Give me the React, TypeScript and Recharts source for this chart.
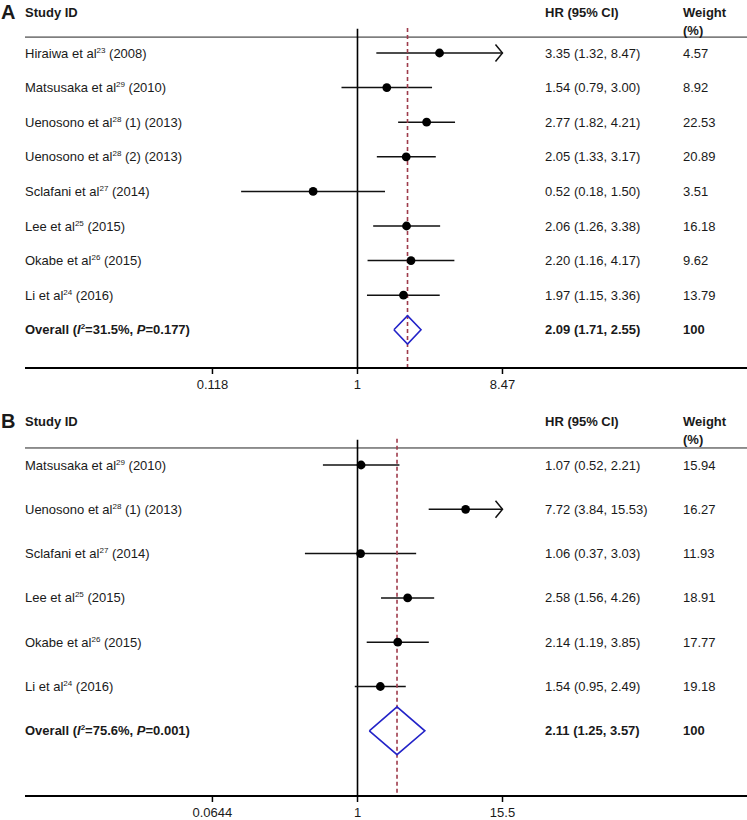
import React from 'react';
import { ComposedChart, XAxis, YAxis, Scatter, ReferenceLine } from 'recharts';

const FONT = '"Liberation Sans", Arial, Helvetica, sans-serif';
const TEXT = '#1a1a1a';
const DASH = '#9e3b4b';
const BLUE = '#2323c8';

// ---------- Panel A ----------
const namesA = ['Hiraiwa et al', 'Matsusaka et al', 'Uenosono et al', 'Uenosono et al', 'Sclafani et al', 'Lee et al', 'Okabe et al', 'Li et al'];
const refsA = ['23', '29', '28', '28', '27', '25', '26', '24'];
const suffixA = ['(2008)', '(2010)', '(1) (2013)', '(2) (2013)', '(2014)', '(2015)', '(2015)', '(2016)'];
const hrA = [3.35, 1.54, 2.77, 2.05, 0.52, 2.06, 2.2, 1.97];
const loA = [1.32, 0.79, 1.82, 1.33, 0.18, 1.26, 1.16, 1.15];
const hiA = [8.47, 3.0, 4.21, 3.17, 1.5, 3.38, 4.17, 3.36];
const weightA = ['4.57', '8.92', '22.53', '20.89', '3.51', '16.18', '9.62', '13.79'];
const overallA = { hr: 2.09, lo: 1.71, hi: 2.55, i2: '31.5%', p: '0.177' };
const ticksA = [0.118, 1, 8.47];

// ---------- Panel B ----------
const namesB = ['Matsusaka et al', 'Uenosono et al', 'Sclafani et al', 'Lee et al', 'Okabe et al', 'Li et al'];
const refsB = ['29', '28', '27', '25', '26', '24'];
const suffixB = ['(2010)', '(1) (2013)', '(2014)', '(2015)', '(2015)', '(2016)'];
const hrB = [1.07, 7.72, 1.06, 2.58, 2.14, 1.54];
const loB = [0.52, 3.84, 0.37, 1.56, 1.19, 0.95];
const hiB = [2.21, 15.53, 3.03, 4.26, 3.85, 2.49];
const weightB = ['15.94', '16.27', '11.93', '18.91', '17.77', '19.18'];
const overallB = { hr: 2.11, lo: 1.25, hi: 3.57, i2: '75.6%', p: '0.001' };
const ticksB = [0.0644, 1, 15.5];

type PanelData = {
  letter: string;
  names: string[];
  refs: string[];
  suffix: string[];
  hr: number[];
  lo: number[];
  hi: number[];
  weight: string[];
  overall: { hr: number; lo: number; hi: number; i2: string; p: string };
  ticks: number[];
};

type PanelLayout = {
  height: number;
  xAxisHeight: number;
  xDomain: [number, number];
  yDomain: [number, number];
  headerRow: number;
  ruleRow: number;
  nullTop: number;
  diamondHalf: number;
};

const panelA: PanelData = { letter: 'A', names: namesA, refs: refsA, suffix: suffixA, hr: hrA, lo: loA, hi: hiA, weight: weightA, overall: overallA, ticks: ticksA };
const panelB: PanelData = { letter: 'B', names: namesB, refs: refsB, suffix: suffixB, hr: hrB, lo: loB, hi: hiB, weight: weightB, overall: overallB, ticks: ticksB };

const layoutA: PanelLayout = {
  height: 395, xAxisHeight: 27, xDomain: [0.00745, 311], yDomain: [-1.532, 9.104],
  headerRow: -1.185, ruleRow: -0.46, nullTop: -0.7, diamondHalf: 0.41,
};
const layoutB: PanelLayout = {
  height: 425, xAxisHeight: 24, xDomain: [0.001863, 1576], yDomain: [-1.58, 7.472],
  headerRow: -0.993, ruleRow: -0.384, nullTop: -0.57, diamondHalf: 0.54,
};

const fmt = (v: number) => v.toFixed(2);

const COL_NAME = 25;
const COL_HR = 545;
const COL_W = 683;

function makeTick(d: PanelData, l: PanelLayout) {
  const n = d.names.length;
  return (props: any) => {
    const { y, payload } = props;
    const v = payload.value;
    const by = y + 4.6;
    if (v < 0) {
      return (
        <g fontFamily={FONT} fill={TEXT}>
          <text x={1} y={y + 7} fontSize={20} fontWeight="bold">{d.letter}</text>
          <text x={COL_NAME} y={by} fontSize={13} fontWeight="bold">Study ID</text>
          <text x={COL_HR} y={by} fontSize={13} fontWeight="bold">HR (95% CI)</text>
          <text x={COL_W} y={by} fontSize={13} fontWeight="bold">Weight</text>
          <text x={COL_W} y={by + 18.5} fontSize={13} fontWeight="bold">(%)</text>
        </g>
      );
    }
    const i = Math.round(v);
    if (i === n) {
      const o = d.overall;
      return (
        <g fontFamily={FONT} fill={TEXT} fontWeight="bold" fontSize={13}>
          <text x={COL_NAME} y={by} style={{ whiteSpace: 'pre' }}>
            <tspan>Overall (</tspan>
            <tspan fontStyle="italic">I</tspan>
            <tspan dy={-5} fontSize={8}>2</tspan>
            <tspan dy={5}>{`=${o.i2}, `}</tspan>
            <tspan fontStyle="italic">P</tspan>
            <tspan>{`=${o.p})`}</tspan>
          </text>
          <text x={COL_HR} y={by}>{`${fmt(o.hr)} (${fmt(o.lo)}, ${fmt(o.hi)})`}</text>
          <text x={COL_W} y={by}>100</text>
        </g>
      );
    }
    return (
      <g fontFamily={FONT} fill={TEXT} fontSize={13}>
        <text x={COL_NAME} y={by} style={{ whiteSpace: 'pre' }}>
          <tspan>{d.names[i]}</tspan>
          <tspan dy={-5} fontSize={8}>{d.refs[i]}</tspan>
          <tspan dy={5}>{` ${d.suffix[i]}`}</tspan>
        </text>
        <text x={COL_HR} y={by}>{`${fmt(d.hr[i])} (${fmt(d.lo[i])}, ${fmt(d.hi[i])})`}</text>
        <text x={COL_W} y={by}>{d.weight[i]}</text>
      </g>
    );
  };
}

const arrowShape = (props: any) => {
  const { x1, y1, x2, y2 } = props;
  return (
    <g>
      <line x1={x1} y1={y1} x2={x2} y2={y2} stroke="#111" strokeWidth={1.5} />
      <polyline points={`${x2 - 7},${y2 - 8.5} ${x2},${y2} ${x2 - 7},${y2 + 8.5}`} fill="none" stroke="#111" strokeWidth={1.5} />
    </g>
  );
};

const dotShape = (props: any) => <circle cx={props.cx} cy={props.cy} r={4.4} fill="#000" />;
const noShape = () => <g />;

function ForestPanel({ d, l }: { d: PanelData; l: PanelLayout }) {
  const n = d.names.length;
  const tMax = d.ticks[d.ticks.length - 1];
  const points = d.hr.map((v, i) => ({ x: v, y: i }));
  const o = d.overall;
  const diamond = [
    { x: o.lo, y: n },
    { x: o.hr, y: n - l.diamondHalf },
    { x: o.hi, y: n },
    { x: o.hr, y: n + l.diamondHalf },
    { x: o.lo, y: n },
  ];
  const yTicks = [l.headerRow, ...d.names.map((_, i) => i), n];
  const bottom = l.yDomain[1];
  return (
    <ComposedChart width={747} height={l.height} margin={{ top: 0, right: 0, bottom: 0, left: 0 }}>
      <XAxis
        type="number"
        dataKey="x"
        scale="log"
        domain={l.xDomain}
        allowDataOverflow
        ticks={d.ticks}
        interval={0}
        height={l.xAxisHeight}
        tickSize={6}
        tickMargin={6}
        tickFormatter={(v: number) => String(v)}
        tick={{ fontSize: 13, fill: TEXT, fontFamily: FONT }}
        axisLine={{ stroke: '#000', strokeWidth: 2 }}
        tickLine={{ stroke: '#000', strokeWidth: 1.5 }}
      />
      <YAxis
        type="number"
        dataKey="y"
        domain={l.yDomain}
        allowDataOverflow
        reversed
        width={25}
        ticks={yTicks}
        interval={0}
        axisLine={false}
        tickLine={false}
        tick={makeTick(d, l)}
      />
      <ReferenceLine y={l.ruleRow} stroke="#222" strokeWidth={1} ifOverflow="visible" />
      <ReferenceLine
        segment={[{ x: 1, y: l.nullTop }, { x: 1, y: bottom }]}
        stroke="#000"
        strokeWidth={1.6}
        ifOverflow="visible"
      />
      {d.hr.map((_, i) => {
        const arrow = d.hi[i] >= tMax;
        const hiEnd = arrow ? tMax : d.hi[i];
        return (
          <ReferenceLine
            key={`ci${i}`}
            segment={[{ x: d.lo[i], y: i }, { x: hiEnd, y: i }]}
            stroke="#111"
            strokeWidth={1.5}
            ifOverflow="visible"
            shape={arrow ? arrowShape : undefined}
          />
        );
      })}
      <ReferenceLine
        segment={[{ x: o.hr, y: l.nullTop - 0.02 }, { x: o.hr, y: bottom }]}
        stroke={DASH}
        strokeWidth={1.6}
        strokeDasharray="4 3"
        ifOverflow="visible"
      />
      <Scatter data={diamond} isAnimationActive={false} shape={noShape} line={{ stroke: BLUE, strokeWidth: 1.6 }} lineType="joint" />
      <Scatter data={points} isAnimationActive={false} shape={dotShape} />
    </ComposedChart>
  );
}

export default function App() {
  return (
    <div style={{ position: 'absolute', left: 0, top: 0, width: 747, height: 820, background: '#fff' }}>
      <ForestPanel d={panelA} l={layoutA} />
      <ForestPanel d={panelB} l={layoutB} />
    </div>
  );
}
